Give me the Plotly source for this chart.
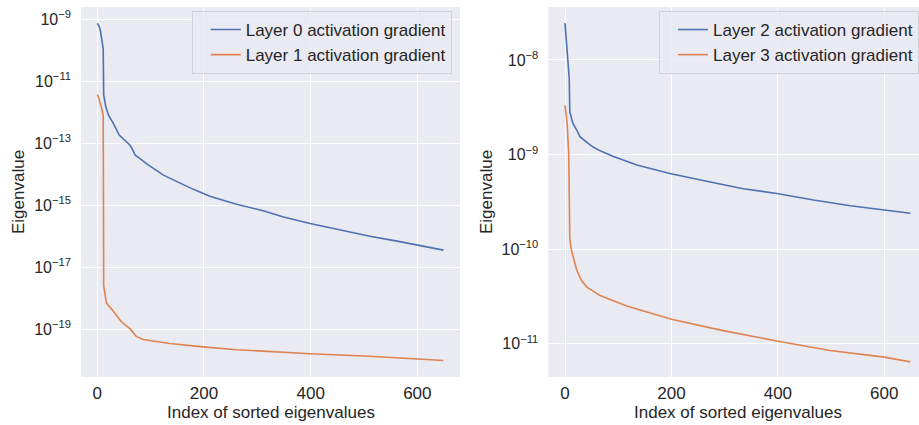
import plotly.graph_objects as go

# ---- data (index, log10 eigenvalue) ----
l0_idx = [0, 2, 4, 6, 8, 10, 11, 12, 16, 21, 30, 41, 52, 61, 66, 71, 80, 96, 124, 150,
          180, 211, 261, 311, 349, 399, 449, 511, 562, 599, 649]
l0_log = [-9.14, -9.2, -9.25, -9.4, -9.59, -9.8, -9.95, -11.45, -11.83, -12.1, -12.36, -12.74,
          -12.92, -13.06, -13.2, -13.39, -13.5, -13.71, -14.03, -14.25, -14.49, -14.71, -14.97,
          -15.18, -15.38, -15.59, -15.78, -16.0, -16.16, -16.29, -16.45]

l1_idx = [0, 3, 7, 11, 12, 14, 17, 30, 45, 61, 73, 86, 136, 198, 261, 399, 511, 649]
l1_log = [-11.43, -11.56, -11.8, -12.1, -17.6, -17.9, -18.15, -18.42, -18.76, -18.98, -19.23,
          -19.33, -19.46, -19.57, -19.66, -19.79, -19.87, -20.01]

l2_idx = [0, 4, 7, 8, 9, 15, 22, 28, 41, 53, 66, 91, 135, 197, 273, 335, 398, 467, 536, 598, 649]
l2_log = [-7.61, -7.93, -8.12, -8.2, -8.55, -8.67, -8.74, -8.81, -8.87, -8.92, -8.96, -9.02,
          -9.11, -9.2, -9.29, -9.36, -9.41, -9.48, -9.54, -9.58, -9.62]

l3_idx = [0, 4, 7, 9, 12, 15, 22, 31, 41, 66, 116, 200, 297, 398, 498, 600, 649]
l3_log = [-8.48, -8.67, -8.99, -9.89, -10.01, -10.07, -10.22, -10.33, -10.4, -10.49, -10.6,
          -10.74, -10.86, -10.97, -11.07, -11.14, -11.19]

names = ["Layer 0 activation gradient", "Layer 1 activation gradient",
         "Layer 2 activation gradient", "Layer 3 activation gradient"]

left_exps = [-9, -11, -13, -15, -17, -19]
right_exps = [-8, -9, -10, -11]
x_ticks = [0, 200, 400, 600]
x_title = "Index of sorted eigenvalues"
y_title = "Eigenvalue"

BLUE = "#4C72B0"
ORANGE = "#DD8452"
BG = "#EAEAF2"
TXT = "#262626"
FONT = "Liberation Sans, Arial, sans-serif"
FS = 17
FS_Y = 16

def vals(logs):
    return [10 ** v for v in logs]

fig = go.Figure()
fig.add_trace(go.Scatter(x=l0_idx, y=vals(l0_log), mode="lines", name=names[0],
                         line=dict(color=BLUE, width=1.6), xaxis="x", yaxis="y", legend="legend"))
fig.add_trace(go.Scatter(x=l1_idx, y=vals(l1_log), mode="lines", name=names[1],
                         line=dict(color=ORANGE, width=1.6), xaxis="x", yaxis="y", legend="legend"))
fig.add_trace(go.Scatter(x=l2_idx, y=vals(l2_log), mode="lines", name=names[2],
                         line=dict(color=BLUE, width=1.6), xaxis="x2", yaxis="y2", legend="legend2"))
fig.add_trace(go.Scatter(x=l3_idx, y=vals(l3_log), mode="lines", name=names[3],
                         line=dict(color=ORANGE, width=1.6), xaxis="x2", yaxis="y2", legend="legend2"))

def sup(e):
    return "10<sup>\u2212%d</sup>" % (-e)

tfont = dict(size=FS, color=TXT, family=FONT)
yfont = dict(size=FS_Y, color=TXT, family=FONT)
xcommon = dict(showgrid=True, gridcolor="white", gridwidth=1, zeroline=False, showline=False,
               tickvals=x_ticks, ticks="", tickfont=tfont, automargin=False, ticklabelstandoff=4)
ycommon = dict(type="log", showgrid=True, gridcolor="white", gridwidth=1, zeroline=False,
               showline=False, ticks="", tickfont=yfont, automargin=False, ticklabelstandoff=9)

legcommon = dict(bgcolor="rgba(234,234,242,0.8)", bordercolor="#d2d2d9", borderwidth=1,
                 font=tfont, xanchor="right", yanchor="top", indentation=13,
                 xref="paper", yref="paper", tracegroupgap=0)

L, R, T, B = 81, 0, 7, 48
W, H = 919, 425
pw = W - L - R
ph = H - T - B

def px_x(p):
    return (p - L) / pw

def px_y(p):
    return (H - B - p) / ph

annotations = [
    dict(text=y_title, x=px_x(18), y=0.5, textangle=-90),
    dict(text=y_title, x=px_x(486), y=0.5, textangle=-90),
    dict(text=x_title, x=px_x(270.5), y=px_y(413)),
    dict(text=x_title, x=px_x(738.3), y=px_y(413)),
]
for a in annotations:
    a.update(xref="paper", yref="paper", xanchor="center", yanchor="middle",
             showarrow=False, font=tfont)

fig.update_layout(
    width=W, height=H,
    margin=dict(l=L, r=R, t=T, b=B, autoexpand=False),
    paper_bgcolor="white", plot_bgcolor=BG,
    font=dict(family=FONT, size=FS, color=TXT),
    showlegend=True,
    xaxis=dict(domain=[0, px_x(460)], range=[-30.6, 680], anchor="y", **xcommon),
    yaxis=dict(range=[-20.54, -8.61], anchor="x",
               tickvals=[10 ** e for e in left_exps], ticktext=[sup(e) for e in left_exps], **ycommon),
    xaxis2=dict(domain=[px_x(548.3), 1.0], range=[-31.4, 665.2], anchor="y2", **xcommon),
    yaxis2=dict(range=[-11.35, -7.44], anchor="x2",
                tickvals=[10 ** e for e in right_exps], ticktext=[sup(e) for e in right_exps], **ycommon),
    legend=dict(x=px_x(451.7), y=px_y(11), **legcommon),
    legend2=dict(x=1.0, y=px_y(11), **legcommon),
    annotations=annotations,
)

fig.write_html("out.html", post_script="document.body.style.margin='0';",
               config={"displayModeBar": False})
